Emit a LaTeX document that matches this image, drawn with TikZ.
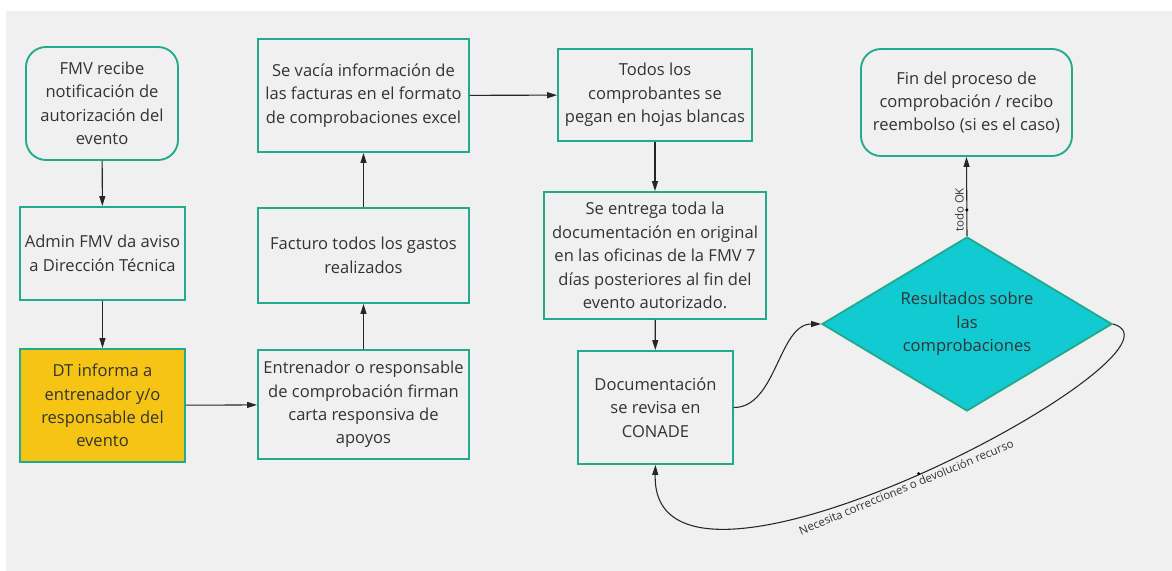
\documentclass[tikz,border=0pt]{standalone}
\usepackage{fontspec}
\setmainfont{Open Sans}
\usetikzlibrary{shapes.geometric,arrows.meta}
\definecolor{bgc}{HTML}{F0F0F0}
\definecolor{tealb}{HTML}{22AA8C}
\definecolor{yel}{HTML}{F5C414}
\definecolor{cyanf}{HTML}{12CAD2}
\definecolor{txt}{HTML}{333333}
\begin{document}
\begin{tikzpicture}[x=0.75pt,y=-0.75pt,
  sz/.style 2 args={minimum width=#1*0.75pt, minimum height=#2*0.75pt},
  box/.style={draw=tealb, line width=1.4pt, inner sep=0pt, align=center, text=txt,
    font=\fontsize{12.4}{17.6}\selectfont},
  rbox/.style={box, rounded corners=15pt},
  ybox/.style={box, fill=yel},
  dia/.style={box, diamond, fill=cyanf, aspect=1.67},
  conn/.style={draw=black!85, line width=0.8pt, -{Triangle[length=7.5pt,width=4.5pt]}},
  lbl/.style={font=\fontsize{8.6}{10}\selectfont, text=txt, inner sep=2pt},
  dot/.style={circle, fill=black, inner sep=0pt, minimum size=2.5pt}
]
\fill[bgc] (6,11) rectangle (1172,571);
\useasboundingbox (0,0) rectangle (1172,571);

\node[rbox, sz={152}{113}] (A) at (102,103.5) {FMV recibe\\notificación de\\autorización del\\evento};
\node[box, sz={165}{93}] (B) at (102.5,253.5) {Admin FMV da aviso\\a Dirección Técnica};
\node[ybox, sz={165}{113}] (C) at (102.5,405.5) {DT informa a\\entrenador y/o\\responsable del\\evento};
\node[box, sz={211}{109}] (D) at (363.5,404.5) {Entrenador o responsable\\de comprobación firman\\carta responsiva de\\apoyos};
\node[box, sz={211}{95}] (E) at (363.5,255.5) {Facturo todos los gastos\\realizados};
\node[box, sz={211}{113}] (F) at (363.5,95.5) {Se vacía información de\\las facturas en el formato\\de comprobaciones excel};
\node[box, sz={194}{92}] (G) at (655,95) {Todos los\\comprobantes se\\pegan en hojas blancas};
\node[box, sz={222}{127}] (H) at (655,255.5) {Se entrega toda la\\documentación en original\\en las oficinas de la FMV 7\\días posteriores al fin del\\evento autorizado.};
\node[box, sz={155}{113}] (I) at (655.5,407.5) {Documentación\\se revisa en\\CONADE};
\node[dia, sz={290}{174}] (J) at (967,324) {Resultados sobre\\las\\comprobaciones};
\node[rbox, sz={211}{107}] (K) at (966.5,102.5) {Fin del proceso de\\comprobación / recibo\\reembolso (si es el caso)};

\draw[conn] (A) -- (B);
\draw[conn] (B) -- (C);
\draw[conn] (C) -- (D);
\draw[conn] (D) -- (E);
\draw[conn] (E) -- (F);
\draw[conn] (F) -- (G);
\draw[conn] (G) -- (H);
\draw[conn] (H) -- (I);
\draw[conn] (I.east) to[out=0,in=180,looseness=0.9] (J.west);
\draw[conn] (J.north) -- node[dot, pos=0.33]{} node[lbl, pos=0.33, rotate=90, anchor=south]{todo OK} (K.south);
\draw[conn] (J.east) .. controls (1210,350) and (650,650) .. node[dot, pos=0.5]{} node[lbl, pos=0.52, sloped, anchor=north]{Necesita correcciones o devolución recurso} (I.south);
\end{tikzpicture}
\end{document}
